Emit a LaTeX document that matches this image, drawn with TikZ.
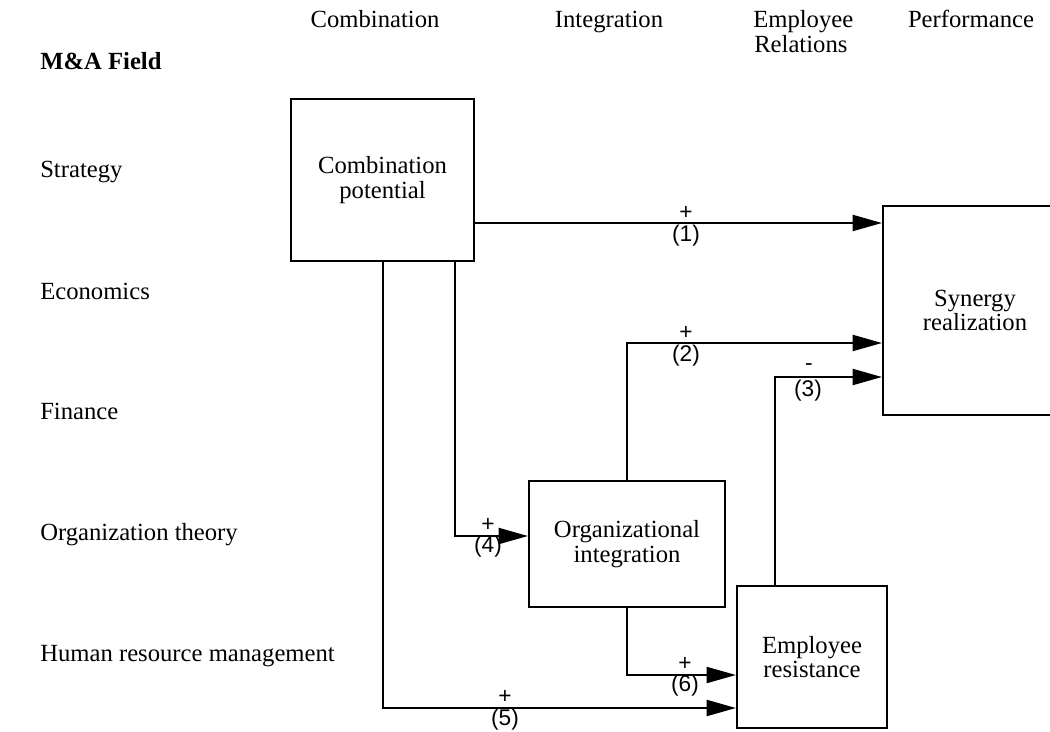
\documentclass[tikz,border=0pt]{standalone}
\usepackage{fontspec}
\setmainfont{Liberation Serif}
\newfontfamily\lblfont{Liberation Sans}
\usetikzlibrary{arrows.meta}
\begin{document}
\begin{tikzpicture}[x=0.75pt,y=-0.75pt,
  box/.style={draw, line width=1.6pt, align=center, font=\fontsize{18.5}{18.5}\selectfont, inner sep=0pt},
  conn/.style={line width=1.6pt},
  arr/.style={conn, -{Triangle[length=22pt,width=12pt]}},
  lbl/.style={font=\lblfont\fontsize{17}{17}\selectfont, inner sep=0pt},
  txt/.style={font=\fontsize{18.5}{18.5}\selectfont, inner sep=0pt, anchor=base west},
  hdr/.style={font=\fontsize{18.5}{18.5}\selectfont, inner sep=0pt, anchor=base}]
\useasboundingbox (0,0) rectangle (1050,732);
\clip (0,0) rectangle (1050,732);

% headers
\node[hdr] (hcomb) at (375,27) {Combination};
\node[hdr] (hint) at (609,27) {Integration};
\node[txt] (hemp1) at (753,27) {Employee};
\node[txt] (hemp2) at (754,52) {Relations};
\node[hdr] (hperf) at (971,27) {Performance};

% left column
\node[txt, font=\bfseries\fontsize{18.5}{18.5}\selectfont] (maf) at (40,69) {M\&A Field};
\node[txt] (f1) at (40,177) {Strategy};
\node[txt] (f2) at (40,299) {Economics};
\node[txt] (f3) at (40,419) {Finance};
\node[txt] (f4) at (40,540) {Organization theory};
\node[txt] (f5) at (40,661) {Human resource management};

% boxes
\node[box, minimum width=137.25pt, minimum height=121.5pt] (comb) at (382.5,180) {Combination\\potential};
\node[box, minimum width=147pt, minimum height=94.5pt] (org) at (627,544) {Organizational\\integration};
\node[box, minimum width=112.5pt, minimum height=106.5pt] (emp) at (812,657) {Employee\\resistance};
\node[box, minimum width=138pt, minimum height=156.75pt] (syn) at (975,310.5) {Synergy\\realization};

% connectors
\draw[arr] (comb.east |- 0,223) -- (syn.west |- 0,223);
\draw[arr] (org.north) |- (syn.west |- 0,343);
\draw[arr] (emp.north -| 775,0) |- (syn.west |- 0,377);
\draw[arr] (comb.south -| 455,0) |- (org.west |- 0,536);
\draw[arr] (comb.south -| 383,0) |- (emp.west |- 0,708);
\draw[arr] (org.south) |- (emp.west |- 0,675);

% labels
\node[lbl] (p1) at (686,213) {+};
\node[lbl] (n1) at (686,236) {(1)};
\node[lbl] (p2) at (686,333) {+};
\node[lbl] (n2) at (686,356) {(2)};
\node[lbl] (p3) at (809,367) {-};
\node[lbl] (n3) at (808,391) {(3)};
\node[lbl] (p4) at (488,525) {+};
\node[lbl] (n4) at (488,547) {(4)};
\node[lbl] (p5) at (505,697) {+};
\node[lbl] (n5) at (505,720) {(5)};
\node[lbl] (p6) at (685,664) {+};
\node[lbl] (n6) at (685,686) {(6)};
\end{tikzpicture}
\end{document}
